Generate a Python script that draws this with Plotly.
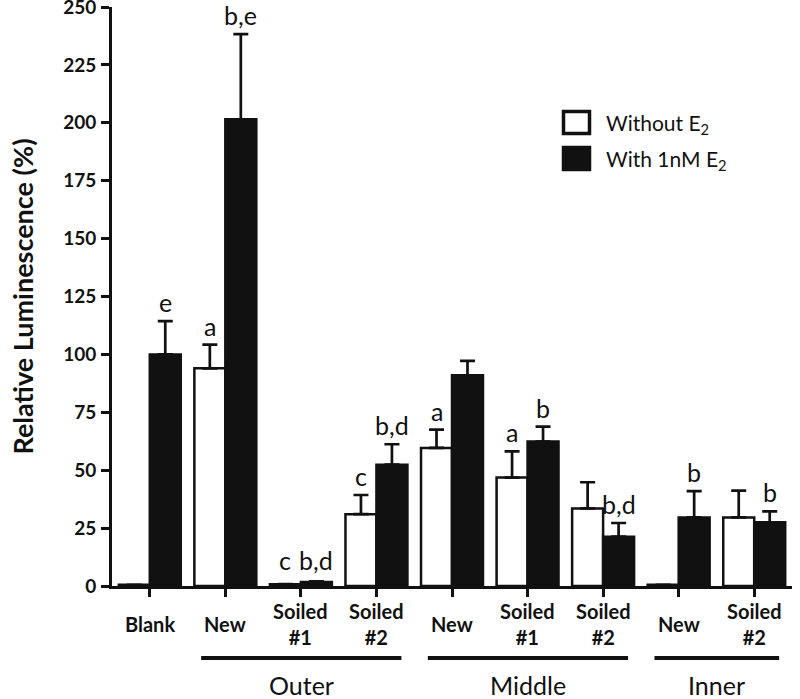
import plotly.graph_objects as go

# ---------------- data ----------------
categories = ["Blank", "New", "Soiled #1", "Soiled #2", "New", "Soiled #1", "Soiled #2", "New", "Soiled #2"]
tick_labels = ["Blank", "New", "Soiled<br>#1", "Soiled<br>#2", "New", "Soiled<br>#1", "Soiled<br>#2", "New", "Soiled<br>#2"]
without_e2 = [0.5, 94, 0.8, 31, 59.6, 46.8, 33.5, 0.5, 29.6]
without_err = [0, 10.2, 0, 8.3, 7.9, 11.3, 11.3, 0, 11.6]
with_e2 = [100, 201.5, 1.7, 52.4, 91, 62.4, 21.3, 29.6, 27.5]
with_err = [14.4, 36.8, 0.3, 8.8, 6.2, 6.4, 5.9, 11.4, 4.7]
without_labels = ["", "a", "c", "c", "a", "a", "", "", ""]
with_labels = ["e", "b,e", "b,d", "b,d", "", "b", "b,d", "b", "b"]
groups = ["Outer", "Middle", "Inner"]
group_spans = [(1, 3), (4, 6), (7, 8)]
y_ticks = [0, 25, 50, 75, 100, 125, 150, 175, 200, 225, 250]

FONT = "Lato"
BLACK = "#111111"
x = list(range(len(categories)))

# plot-area geometry in pixels (used for paper-coordinate placement)
L, R, T, B = 112, 8, 7, 113
PW, PH = 800 - L - R, 699 - T - B


def px_x(p):
    return (p - L) / PW


def px_y(p):
    return (699 - B - p) / PH


fig = go.Figure()
fig.add_trace(go.Bar(
    x=x, y=without_e2, name="Without E<sub>2</sub>",
    marker=dict(color="white", line=dict(color=BLACK, width=2.5)),
    error_y=dict(type="data", array=without_err, arrayminus=[0] * len(x), symmetric=False,
                 color=BLACK, thickness=2.7, width=7.5),
    showlegend=False,
))
fig.add_trace(go.Bar(
    x=x, y=with_e2, name="With 1nM E<sub>2</sub>",
    marker=dict(color=BLACK, line=dict(color=BLACK, width=2.5)),
    error_y=dict(type="data", array=with_err, arrayminus=[0] * len(x), symmetric=False,
                 color=BLACK, thickness=2.7, width=7.5),
    showlegend=False,
))

annotations = []
shapes = []
half = 0.205
for i in x:
    for lab, v, e, dx in ((without_labels[i], without_e2[i], without_err[i], -half),
                          (with_labels[i], with_e2[i], with_err[i], half)):
        if lab:
            annotations.append(dict(x=i + dx, y=max(v + e, 3), xref="x", yref="y",
                                    text=lab, showarrow=False, yanchor="bottom", yshift=2,
                                    font=dict(family=FONT, size=25, color=BLACK)))
    # category tick labels
    annotations.append(dict(x=i, y=px_y(624), xref="x", yref="paper", text="<b>%s</b>" % tick_labels[i],
                            showarrow=False, yanchor="middle",
                            font=dict(family=FONT, size=20, color=BLACK)))

for g, (a, b) in zip(groups, group_spans):
    shapes.append(dict(type="line", xref="x", yref="paper", x0=a - 0.32, x1=b + 0.33,
                       y0=px_y(658), y1=px_y(658), line=dict(color=BLACK, width=4)))
    annotations.append(dict(x=(a - 0.32 + b + 0.33) / 2, y=px_y(685), xref="x", yref="paper",
                            text=g, showarrow=False, yanchor="middle",
                            font=dict(family=FONT, size=25, color=BLACK)))

# legend (manual swatches + text)
legend_items = [("Without E<sub>2</sub>", "white"), ("With 1nM E<sub>2</sub>", BLACK)]
for k, (txt, col) in enumerate(legend_items):
    yc = 122.5 + k * 36
    shapes.append(dict(type="rect", xref="paper", yref="paper",
                       x0=px_x(563.5), x1=px_x(589.5), y0=px_y(yc + 11), y1=px_y(yc - 11),
                       fillcolor=col, line=dict(color=BLACK, width=3.5)))
    annotations.append(dict(x=px_x(604), y=px_y(yc + 1), xref="paper", yref="paper",
                            text=txt, showarrow=False, xanchor="left", yanchor="middle",
                            font=dict(family=FONT, size=21, color=BLACK)))

fig.update_layout(
    width=800, height=699,
    margin=dict(l=L, r=R, t=T, b=B, autoexpand=False),
    paper_bgcolor="white", plot_bgcolor="white",
    barmode="group", bargap=0.18, bargroupgap=0,
    annotations=annotations, shapes=shapes,
    font=dict(family=FONT, color=BLACK),
    xaxis=dict(range=[-0.5, 8.5], tickvals=x, showticklabels=False, ticks="outside",
               ticklen=8, tickwidth=2.5, tickcolor=BLACK, showline=True, linecolor=BLACK,
               linewidth=2.7, showgrid=False, zeroline=False, automargin=False),
    yaxis=dict(range=[0, 250], tickvals=y_ticks, ticktext=["<b>%d</b>" % t for t in y_ticks],
               ticks="outside", ticklen=8, tickwidth=2.7, tickcolor=BLACK, showline=True,
               linecolor=BLACK, linewidth=2.7, showgrid=False, zeroline=False,
               automargin=False, ticklabeloverflow="allow", ticklabelstandoff=1,
               tickfont=dict(family=FONT, size=19, color=BLACK),
               title=dict(text="<b>Relative Luminescence (%)</b>", standoff=22,
                          font=dict(family=FONT, size=27, color=BLACK))),
)

fig.write_html("out.html", config={"displayModeBar": False},
               post_script="document.body.style.margin='0';document.body.style.padding='0';")
